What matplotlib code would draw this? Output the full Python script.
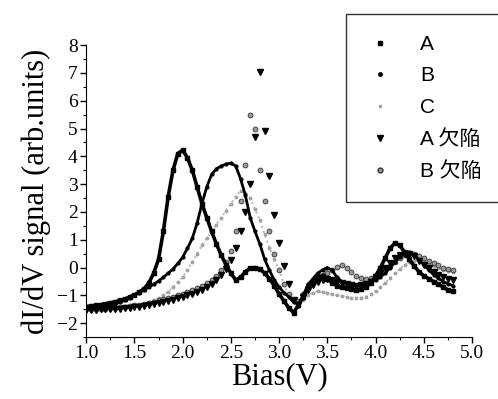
import numpy as np
import matplotlib.pyplot as plt
from matplotlib.ticker import MultipleLocator
from matplotlib.lines import Line2D

plt.rcParams['font.family'] = ['Liberation Serif']

# bias grid (V), 0.05 V steps
bias = np.round(np.arange(1.0, 4.801, 0.05), 2)

A = [-1.40, -1.38, -1.36, -1.33, -1.30, -1.27, -1.23, -1.18, -1.13, -1.06,
     -0.98, -0.88, -0.76, -0.55, -0.20, 0.30, 1.30, 2.55, 3.50, 4.10,
     4.22, 3.95, 3.50, 2.90, 2.30, 1.80, 1.30, 0.85, 0.45, 0.10,
     -0.20, -0.45, -0.35, -0.15, -0.02, 0.00, -0.05, -0.20, -0.40, -0.65,
     -0.95, -1.20, -1.45, -1.62, -1.35, -1.05, -0.75, -0.50, -0.35, -0.30,
     -0.40, -0.55, -0.65, -0.70, -0.75, -0.78, -0.80, -0.78, -0.70, -0.55,
     -0.30, 0.00, 0.35, 0.70, 0.88, 0.80, 0.55, 0.30, 0.05, -0.15,
     -0.30, -0.40, -0.50, -0.60, -0.70, -0.80, -0.85]

B = [-1.45, -1.44, -1.42, -1.40, -1.38, -1.34, -1.30, -1.24, -1.18, -1.10,
     -1.00, -0.90, -0.80, -0.70, -0.60, -0.48, -0.35, -0.20, -0.05, 0.15,
     0.37, 0.70, 1.05, 1.60, 2.30, 2.90, 3.35, 3.55, 3.65, 3.72,
     3.76, 3.65, 3.20, 2.60, 1.80, 1.30, 0.85, 0.30, -0.10, -0.45,
     -0.70, -0.90, -1.05, -1.25, -1.30, -1.00, -0.60, -0.40, -0.20, -0.08,
     0.00, -0.10, -0.35, -0.50, -0.60, -0.64, -0.65, -0.63, -0.60, -0.53,
     -0.45, -0.33, -0.20, 0.00, 0.20, 0.38, 0.50, 0.55, 0.45, 0.28,
     0.10, -0.08, -0.25, -0.38, -0.50, -0.58, -0.65]

C = [-1.50, -1.50, -1.49, -1.49, -1.48, -1.47, -1.46, -1.44, -1.42, -1.39,
     -1.36, -1.33, -1.30, -1.24, -1.17, -1.09, -1.00, -0.86, -0.70, -0.53,
     -0.35, -0.08, 0.20, 0.50, 0.80, 1.05, 1.30, 1.55, 1.80, 2.05,
     2.30, 2.55, 2.75, 2.70, 2.50, 2.10, 1.70, 1.20, 0.70, 0.30,
     -0.10, -0.60, -1.00, -1.20, -1.30, -1.15, -1.00, -0.90, -0.85, -0.87,
     -0.90, -0.95, -1.00, -1.03, -1.05, -1.08, -1.10, -1.08, -1.05, -0.95,
     -0.85, -0.70, -0.55, -0.38, -0.20, -0.05, 0.10, 0.20, 0.25, 0.24,
     0.20, 0.12, 0.05, -0.02, -0.10, -0.13, -0.15]

A_defect = [-1.52, -1.52, -1.51, -1.50, -1.50, -1.49, -1.48, -1.47, -1.46, -1.45,
            -1.43, -1.41, -1.38, -1.35, -1.32, -1.28, -1.24, -1.20, -1.15, -1.10,
            -1.05, -1.00, -0.94, -0.88, -0.80, -0.70, -0.58, -0.45, -0.28, -0.05,
            0.28, 0.70, 1.30, 2.00, 3.00, 4.70, 7.05, 4.90, 3.30, 1.90,
            0.90, 0.05, -0.60, -1.15, -1.35, -1.05, -0.80, -0.62, -0.50, -0.43,
            -0.40, -0.45, -0.50, -0.55, -0.60, -0.63, -0.65, -0.63, -0.60, -0.50,
            -0.35, -0.18, 0.00, 0.18, 0.35, 0.45, 0.50, 0.48, 0.40, 0.25,
            0.10, -0.03, -0.15, -0.25, -0.35, -0.40, -0.45]

B_defect = [-1.50, -1.50, -1.49, -1.48, -1.47, -1.46, -1.45, -1.43, -1.41, -1.39,
            -1.36, -1.33, -1.30, -1.26, -1.22, -1.18, -1.14, -1.10, -1.05, -1.00,
            -0.95, -0.89, -0.82, -0.75, -0.67, -0.57, -0.45, -0.30, -0.10, 0.20,
            0.60, 1.30, 2.40, 3.70, 5.50, 5.00, 3.50, 2.40, 1.30, 0.50,
            -0.10, -0.60, -0.95, -1.15, -1.20, -0.95, -0.70, -0.50, -0.35, -0.25,
            -0.18, -0.08, 0.02, 0.10, 0.00, -0.15, -0.30, -0.38, -0.40, -0.36,
            -0.30, -0.20, -0.10, 0.05, 0.20, 0.35, 0.45, 0.50, 0.50, 0.43,
            0.35, 0.25, 0.15, 0.08, 0.00, -0.05, -0.10]

labels = ['A', 'B', 'C', 'A 欠陥', 'B 欠陥']

fig = plt.figure(figsize=(4.98, 3.99), dpi=100)
ax = fig.add_axes([0.173, 0.155, 0.775, 0.732])

ax.plot(bias, C, color='#b5b5b5', lw=1.4, ls=':', marker='.', ms=3.5, mec='#a0a0a0', zorder=2)
ax.plot(bias, B_defect, ls='none', marker='o', ms=3.5, mfc='#9a9a9a', mec='#333333', mew=0.6, zorder=3)
ax.plot(bias, A_defect, ls='none', marker='v', ms=4, color='black', zorder=3)
ax.plot(bias, B, color='black', lw=2.0, marker='o', ms=2, zorder=4)
ax.plot(bias, A, color='black', lw=2.6, marker='s', ms=2.5, zorder=5)

ax.set_xlim(1.0, 5.0)
ax.set_ylim(-2.5, 8)
ax.spines['top'].set_visible(False)
ax.spines['right'].set_visible(False)
ax.xaxis.set_major_locator(MultipleLocator(0.5))
ax.xaxis.set_minor_locator(MultipleLocator(0.25))
ax.yaxis.set_ticks(np.arange(-2, 9, 1))
ax.yaxis.set_minor_locator(MultipleLocator(0.5))
ax.xaxis.set_major_formatter('{x:.1f}')
ax.tick_params(which='major', direction='out', length=4, width=1, labelsize=14, pad=2)
ax.tick_params(which='minor', direction='out', length=2, width=0.8)

ax.set_xlabel('Bias(V)', fontsize=22, labelpad=0)
ax.set_ylabel('dI/dV signal (arb.units)', fontsize=22, labelpad=4)

handles = [
    Line2D([], [], ls='none', marker='s', ms=3, color='black'),
    Line2D([], [], ls='none', marker='o', ms=2.5, color='black'),
    Line2D([], [], ls='none', marker='.', ms=3, color='#a0a0a0'),
    Line2D([], [], ls='none', marker='v', ms=4, color='black'),
    Line2D([], [], ls='none', marker='o', ms=3.5, mfc='#9a9a9a', mec='#333333'),
]
leg = fig.legend(handles, labels, loc='upper left',
                 bbox_to_anchor=(0.695, 0.965, 0.36, 0.0), mode='expand',
                 prop={'family': ['Liberation Sans', 'Noto Sans CJK JP'], 'size': 15},
                 frameon=True, fancybox=False, edgecolor='black', labelspacing=0.6,
                 handlelength=1.25, handletextpad=1.3, borderpad=1.0, borderaxespad=0)
leg.get_frame().set_linewidth(1.0)

fig.savefig('out.png', dpi=100)
